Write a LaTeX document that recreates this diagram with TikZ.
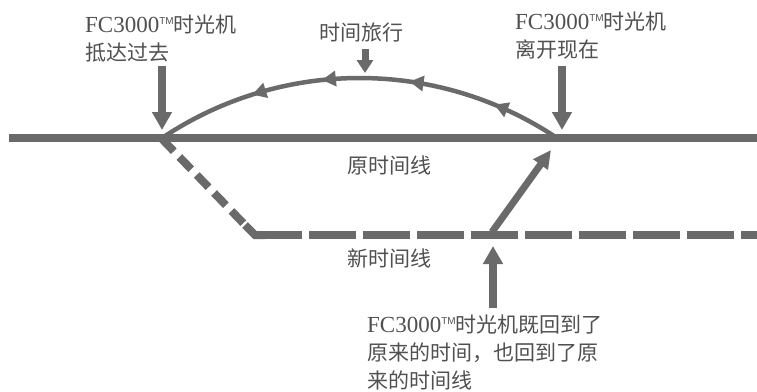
\documentclass[tikz,border=0pt]{standalone}
\usepackage{fontspec}
\setmainfont{Liberation Serif}
\setsansfont{Liberation Sans}
\newfontfamily\cjk{Noto Sans CJK SC}
\usetikzlibrary{arrows.meta,decorations.markings,calc}
\definecolor{lineg}{HTML}{6A6A6A}
\definecolor{txtg}{HTML}{505050}
\newcommand{\fcname}{{\fontsize{23}{28}\selectfont FC3000}\raisebox{8pt}{\fontsize{10}{10}\sffamily TM}}
\begin{document}
\begin{tikzpicture}[x=1pt,y=-1pt,
  timeline/.style={line width=8.5pt,draw=lineg},
  dashline/.style={line width=8pt,draw=lineg,dash pattern=on 47pt off 7pt},
  diagdash/.style={line width=8pt,draw=lineg,dash pattern=on 17pt off 8pt},
  bigarrow/.style={line width=8pt,draw=lineg,-{Triangle[length=18pt,width=19pt]}},
  midarrow/.style={line width=7pt,draw=lineg,-{Triangle[length=18pt,width=17pt]}},
  smallarrow/.style={line width=7pt,draw=lineg,-{Triangle[length=13pt,width=16pt]}},
  travel/.style={line width=4.5pt,draw=lineg,
    postaction={decorate,decoration={markings,
      mark=at position 0.17 with {\arrow[lineg]{Triangle[length=14pt,width=15pt]}},
      mark=at position 0.38 with {\arrow[lineg]{Triangle[length=14pt,width=15pt]}},
      mark=at position 0.59 with {\arrow[lineg]{Triangle[length=14pt,width=15pt]}},
      mark=at position 0.76 with {\arrow[lineg]{Triangle[length=14pt,width=15pt]}}}}},
  serlabel/.style={text=txtg,align=left,inner sep=0pt,anchor=base west,
    font=\fontsize{21}{28}\selectfont},
  sanlabel/.style={text=txtg,inner sep=0pt,font=\fontsize{21}{28}\selectfont\cjk}
]
\useasboundingbox (0,0) rectangle (757,391);

% coordinates
\coordinate (L) at (9,138);
\coordinate (R) at (760,138);
\coordinate (A) at (162,139);
\coordinate (B) at (557,138);
\coordinate (C) at (255,235);
\coordinate (E) at (760,235);
\coordinate (D) at (492,232);
\coordinate (DT) at (551,150);
\coordinate (ALs) at (162,66);
\coordinate (ALt) at (162,130);
\coordinate (ARs) at (562,66);
\coordinate (ARt) at (562,130);
\coordinate (ATs) at (365,49);
\coordinate (ATt) at (365,73);
\coordinate (ABs) at (493,308);
\coordinate (ABt) at (493,246);

% new timeline (dashed)
\draw[diagdash] (A) -- ($(C)+(-9,-9)$);
\draw[line width=8pt,draw=lineg,miter limit=10] ($(C)+(-10,-10)$) -- (C) -- ++(10,0);
\draw[dashline] (C) -- (E);

% original timeline
\draw[timeline] (L) -- (R);

% time travel arc
\draw[travel] (B) arc[start angle=-56.2,end angle=-123.8,radius=355];

% arrows
\draw[bigarrow] (ALs) -- (ALt);
\draw[bigarrow] (ARs) -- (ARt);
\draw[smallarrow] (ATs) -- (ATt);
\draw[midarrow] (D) -- (DT);
\draw[bigarrow] (ABs) -- (ABt);

% labels (base anchor = baseline of the last line)
\node[serlabel] (lblL) at (85,60) {\fcname{\cjk 时光机}\\{\cjk 抵达过去}};
\node[serlabel] (lblR) at (515,57) {\fcname{\cjk 时光机}\\{\cjk 离开现在}};
\node[serlabel] (lblB) at (367,388) {\fcname{\cjk 时光机既回到了}\\{\cjk 原来的时间，也回到了原}\\{\cjk 来的时间线}};
\node[sanlabel] (lblT) at (361,33) {时间旅行};
\node[sanlabel] (lblO) at (389,165) {原时间线};
\node[sanlabel] (lblN) at (389,258) {新时间线};
\end{tikzpicture}
\end{document}
